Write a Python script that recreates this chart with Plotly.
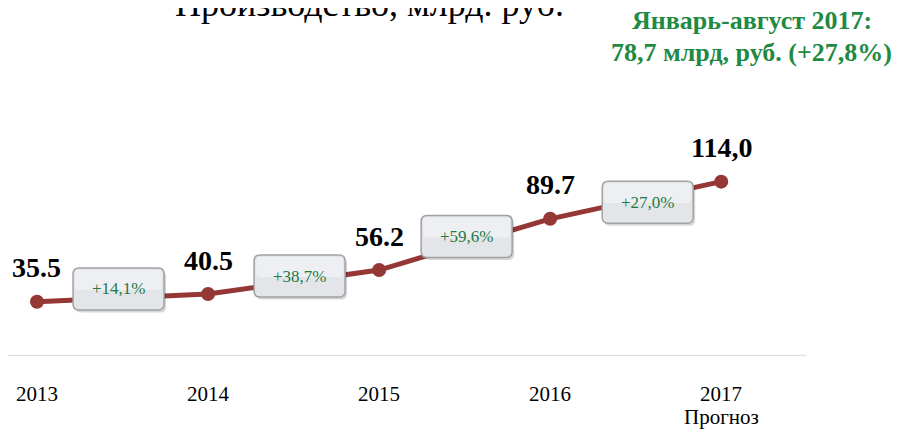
import plotly.graph_objects as go

# ---- data ----
years = ["2013", "2014", "2015", "2016", "2017"]
year_sub = ["", "", "", "", "Прогноз"]
values = [35.5, 40.5, 56.2, 89.7, 114.0]
value_labels = ["35.5", "40.5", "56.2", "89.7", "114,0"]
growth_labels = ["+14,1%", "+38,7%", "+59,6%", "+27,0%"]
title_text = "Производство, млрд. руб."
note_line1 = "Январь-август 2017:"
note_line2 = "78,7 млрд, руб. (+27,8%)"

# ---- style ----
SERIF = "Liberation Serif, Times New Roman, serif"
LINE_COLOR = "#953735"
GREEN = "#1f8a44"
BOX_GREEN = "#237a45"
box_dx = [-4, 6, 2, 12]      # pixel nudges of growth boxes from segment midpoint
box_dy = [9, 6, 8, -2]       # positive = up

xs = list(range(len(years)))

fig = go.Figure()
fig.add_trace(go.Scatter(
    x=xs, y=values, mode="lines+markers",
    line=dict(color=LINE_COLOR, width=5),
    marker=dict(color=LINE_COLOR, size=14),
    hoverinfo="skip", showlegend=False, cliponaxis=False,
))

annotations = []
shapes = []

# value labels
for x, v, t in zip(xs, values, value_labels):
    annotations.append(dict(
        x=x, y=v, xref="x", yref="y", text=t, showarrow=False,
        yshift=34, yanchor="middle", xanchor="center",
        font=dict(family=SERIF, size=28, color="black", weight="bold"),
    ))

# year labels
for x, y, s in zip(xs, years, year_sub):
    annotations.append(dict(
        x=x, y=0, xref="x", yref="y", text=y, showarrow=False,
        yshift=-38, yanchor="middle", xanchor="center",
        font=dict(family=SERIF, size=21, color="black"),
    ))
    if s:
        annotations.append(dict(
            x=x, y=0, xref="x", yref="y", text=s, showarrow=False,
            yshift=-61, yanchor="middle", xanchor="center",
            font=dict(family=SERIF, size=21, color="black"),
        ))

# growth boxes
W, H, R = 45.5, 21, 6
def rrect(cx, cy, w, h, r):
    return (f"M {cx-w+r},{cy-h} L {cx+w-r},{cy-h} Q {cx+w},{cy-h} {cx+w},{cy-h+r} "
            f"L {cx+w},{cy+h-r} Q {cx+w},{cy+h} {cx+w-r},{cy+h} "
            f"L {cx-w+r},{cy+h} Q {cx-w},{cy+h} {cx-w},{cy+h-r} "
            f"L {cx-w},{cy-h+r} Q {cx-w},{cy-h} {cx-w+r},{cy-h} Z")

for i, g in enumerate(growth_labels):
    mx = (xs[i] + xs[i + 1]) / 2
    my = (values[i] + values[i + 1]) / 2
    cx, cy = box_dx[i], box_dy[i]
    # shadow
    shapes.append(dict(
        type="path", xref="x", yref="y", xsizemode="pixel", ysizemode="pixel",
        xanchor=mx, yanchor=my, path=rrect(cx + 2, cy - 2.5, W, H, R),
        fillcolor="rgba(0,0,0,0.16)", line=dict(width=0), layer="above",
    ))
    shapes.append(dict(
        type="path", xref="x", yref="y", xsizemode="pixel", ysizemode="pixel",
        xanchor=mx, yanchor=my, path=rrect(cx, cy, W, H, R),
        fillcolor="#e3e5e9", line=dict(color="#9fa2a6", width=1.5), layer="above",
    ))
    # lighter top highlight (gradient impression)
    shapes.append(dict(
        type="path", xref="x", yref="y", xsizemode="pixel", ysizemode="pixel",
        xanchor=mx, yanchor=my, path=rrect(cx, cy + 9, W - 2, H - 11, R - 2),
        fillcolor="rgba(255,255,255,0.4)", line=dict(width=0), layer="above",
    ))
    annotations.append(dict(
        x=mx, y=my, xref="x", yref="y", text=g, showarrow=False,
        xshift=cx, yshift=cy, yanchor="middle", xanchor="center",
        font=dict(family=SERIF, size=17, color=BOX_GREEN),
    ))

# title (partly cut off at top, as in the reference)
annotations.append(dict(
    x=0.4524, y=1.289, xref="paper", yref="paper", text=title_text,
    showarrow=False, yanchor="bottom", xanchor="center",
    font=dict(family=SERIF, size=36, color="black"),
))
# green note
annotations.append(dict(
    x=0.932, y=1.3125, xref="paper", yref="paper", text=note_line1,
    showarrow=False, yanchor="middle", xanchor="center",
    font=dict(family=SERIF, size=26, color=GREEN, weight="bold"),
))
annotations.append(dict(
    x=0.932, y=1.1875, xref="paper", yref="paper", text=note_line2,
    showarrow=False, yanchor="middle", xanchor="center",
    font=dict(family=SERIF, size=26, color=GREEN, weight="bold"),
))

# page body has an 8px margin: figure is sized/offset to compensate
fig.update_layout(
    width=892, height=421,
    margin=dict(l=0, r=94, t=92, b=73),
    paper_bgcolor="white", plot_bgcolor="white",
    xaxis=dict(range=[-0.1695, 4.4955], showgrid=False, zeroline=False,
               showticklabels=False, showline=False, fixedrange=True),
    yaxis=dict(range=[0, 167.4], showgrid=False, zeroline=False,
               showticklabels=False, showline=False, fixedrange=True),
    annotations=annotations,
    shapes=[dict(type="line", xref="paper", yref="y", x0=0, x1=1, y0=0, y1=0,
                 line=dict(color="#dedede", width=2.5), layer="below")] + shapes,
)

fig.write_html("out.html")
